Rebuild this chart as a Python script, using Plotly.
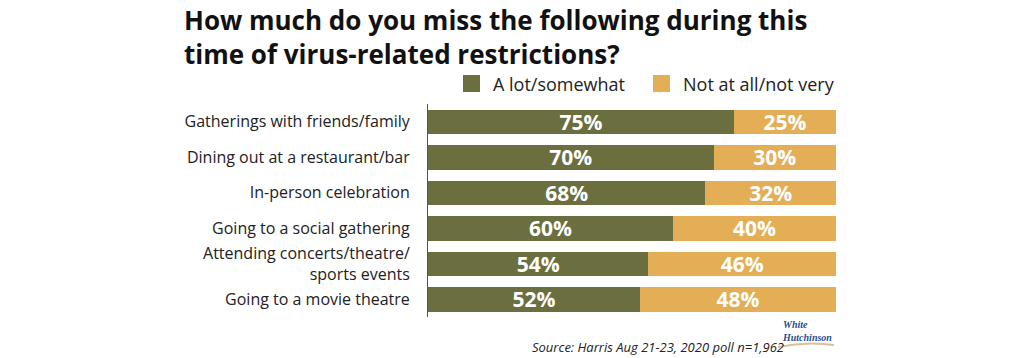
import plotly.graph_objects as go

categories = [
    "Gatherings with friends/family",
    "Dining out at a restaurant/bar",
    "In-person celebration",
    "Going to a social gathering",
    "Attending concerts/theatre/<br>sports events",
    "Going to a movie theatre",
]
a_lot = [75, 70, 68, 60, 54, 52]
not_at_all = [25, 30, 32, 40, 46, 48]
series_names = ["A lot/somewhat", "Not at all/not very"]
colors = ["#6b6e3e", "#e3ae56"]

title_text = "How much do you miss the following during this<br>time of virus-related restrictions?"
source_text = "Source: Harris Aug 21-23, 2020 poll n=1,962"

W, H = 1024, 358
L, R, T, B = 428, 836, 104, 317
FONT = "Open Sans"


def px(x):
    return (x - L) / (R - L)


def py(y):
    return (B - y) / (B - T)


fig = go.Figure()
for name, vals, col in zip(series_names, [a_lot, not_at_all], colors):
    fig.add_trace(go.Bar(
        y=categories, x=vals, name=name, orientation="h",
        marker=dict(color=col, line=dict(width=0)),
        text=[f"{v}%" for v in vals], textposition="inside",
        insidetextanchor="middle", constraintext="none",
        textfont=dict(family=FONT, size=21, color="white", weight="bold"),
        hoverinfo="skip", showlegend=False,
    ))

fig.update_layout(
    barmode="stack", bargap=0.31,
    width=W, height=H,
    margin=dict(l=L, r=W - R, t=T, b=H - B, pad=0),
    paper_bgcolor="white", plot_bgcolor="white",
    font=dict(family=FONT, color="#222222"),
    uniformtext=dict(minsize=21, mode="show"),
    xaxis=dict(range=[0, 100], visible=False, fixedrange=True),
    yaxis=dict(autorange="reversed", showline=True, linecolor="#555555",
               linewidth=1, ticks="", showgrid=False, zeroline=False,
               fixedrange=True,
               tickfont=dict(family=FONT, size=16, color="#222222"),
               ticklabelstandoff=14),
)

annotations = [
    dict(text="<b>" + title_text + "</b>", x=px(183), y=py(1),
         xref="paper", yref="paper", xanchor="left", yanchor="top",
         align="left", showarrow=False, borderpad=0,
         font=dict(family=FONT, size=26, color="#111111")),
    dict(text="<i>" + source_text + "</i>", x=px(530), y=py(358), xref="paper", yref="paper",
         xanchor="left", yanchor="bottom", showarrow=False,
         font=dict(family=FONT, size=13, color="#222222")),
    dict(text="<b><i>White<br>Hutchinson</i></b>", x=px(780), y=py(345), xref="paper", yref="paper",
         xanchor="left", yanchor="bottom", align="left", showarrow=False,
         font=dict(family="Liberation Serif", size=10, color="#2a4d8f")),
]

shapes = []
leg_x = [463, 653]
for name, col, lx in zip(series_names, colors, leg_x):
    shapes.append(dict(type="rect", xref="paper", yref="paper",
                       x0=px(lx), x1=px(lx + 17), y0=py(92), y1=py(75),
                       fillcolor=col, line=dict(width=0)))
    annotations.append(dict(text=name, x=px(lx + 28), y=py(84), xref="paper", yref="paper",
                            xanchor="left", yanchor="middle", showarrow=False,
                            font=dict(family=FONT, size=18, color="#222222")))

shapes.append(dict(type="path", xref="paper", yref="paper",
                   path=f"M {px(778)} {py(347)} Q {px(806)} {py(341)} {px(834)} {py(345)}",
                   line=dict(color="#dcbf94", width=2)))

fig.update_layout(annotations=annotations, shapes=shapes)
fig.write_html("out.html", config={"displayModeBar": False},
               post_script="document.body.style.margin='0';")
